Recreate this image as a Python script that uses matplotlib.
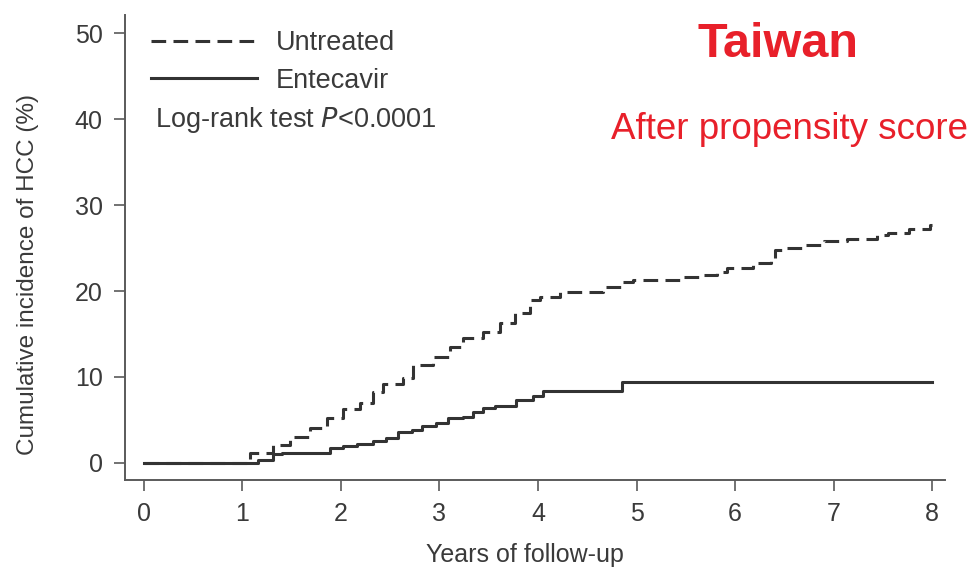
import numpy as np
import matplotlib
matplotlib.use('Agg')
from matplotlib import pyplot as plt

# Kaplan-Meier style cumulative incidence
years_untreated = [0, 1.08, 1.31, 1.48, 1.69, 1.86, 2.02, 2.19, 2.33, 2.43, 2.63, 2.73, 2.93,
                   3.11, 3.24, 3.44, 3.61, 3.77, 3.92, 4.02, 4.22, 4.66, 4.86, 4.96, 5.44,
                   5.64, 5.82, 5.92, 6.18, 6.36, 6.41, 6.49, 6.69, 6.90, 7.14, 7.44, 7.55,
                   7.76, 7.98, 8.0]
inc_untreated = [0, 1.2, 2.1, 3.0, 4.1, 5.2, 6.3, 7.0, 8.3, 9.2, 9.9, 11.4, 12.3,
                 13.5, 14.5, 15.2, 16.3, 17.4, 19.0, 19.3, 19.9, 20.5, 21.0, 21.3, 21.6,
                 21.9, 22.2, 22.7, 23.2, 23.8, 24.8, 25.0, 25.3, 25.8, 26.1, 26.5, 26.8,
                 27.2, 27.7, 27.7]

years_etv = [0, 1.16, 1.31, 1.40, 1.89, 2.02, 2.16, 2.33, 2.46, 2.58, 2.72, 2.82, 2.97,
             3.09, 3.24, 3.34, 3.44, 3.56, 3.78, 3.95, 4.05, 4.85, 8.0]
inc_etv = [0, 0.35, 1.0, 1.2, 1.7, 2.0, 2.2, 2.5, 2.9, 3.6, 3.8, 4.3, 4.7,
           5.2, 5.4, 5.9, 6.4, 6.6, 7.3, 7.8, 8.4, 9.4, 9.4]

xticks = list(range(0, 9))
yticks = [0, 10, 20, 30, 40, 50]

plt.rcParams['font.family'] = ['Liberation Sans', 'DejaVu Sans']

W, H = 972, 574
fig = plt.figure(figsize=(W / 100, H / 100), dpi=100)
ax = fig.add_axes([125 / W, 1 - 480 / H, 820 / W, 465 / H])

line_col = '#333333'
axis_col = '#5a5a5a'
text_col = '#3a3a3a'

ax.step(years_untreated, inc_untreated, where='post', color=line_col, lw=2.2,
        dashes=[4.8, 2.4], label='Untreated')
ax.step(years_etv, inc_etv, where='post', color=line_col, lw=2.2, label='Entecavir')

ax.set_xlim(-0.19, 8.13)
ax.set_ylim(-1.98, 52.1)
ax.set_xticks(xticks)
ax.set_yticks(yticks)

for s in ['top', 'right']:
    ax.spines[s].set_visible(False)
for s in ['left', 'bottom']:
    ax.spines[s].set_color(axis_col)
    ax.spines[s].set_linewidth(1.4)
ax.tick_params(direction='out', length=8, width=1.2, color=axis_col,
               labelsize=18, labelcolor=text_col, pad=8)

leg = ax.legend(loc='upper left', bbox_to_anchor=(10 / 820, 1 + 1 / 465), frameon=False,
                fontsize=19.5, handlelength=3.9, handletextpad=0.7,
                labelspacing=0.42, borderaxespad=0.2)
for t in leg.get_texts():
    t.set_color(text_col)

fig.text(155 / W, 1 - 127 / H, 'Log-rank test $\\it{P}$<0.0001', fontsize=19.5,
         color=text_col, va='baseline', ha='left')

fig.text(28 / W, 1 - 275 / H, 'Cumulative incidence of HCC (%)', rotation=90,
         fontsize=17.5, color=text_col, ha='center', va='center')
fig.text(525 / W, 1 - 555 / H, 'Years of follow-up', fontsize=18,
         color=text_col, ha='center', va='center')

fig.text(778 / W, 1 - 57 / H, 'Taiwan', fontsize=35, fontweight='bold',
         color='#e8202a', ha='center', va='baseline')
fig.text(968 / W, 1 - 139 / H, 'After propensity score', fontsize=26.5,
         color='#e8202a', ha='right', va='baseline')

fig.savefig('out.png', dpi=100)
